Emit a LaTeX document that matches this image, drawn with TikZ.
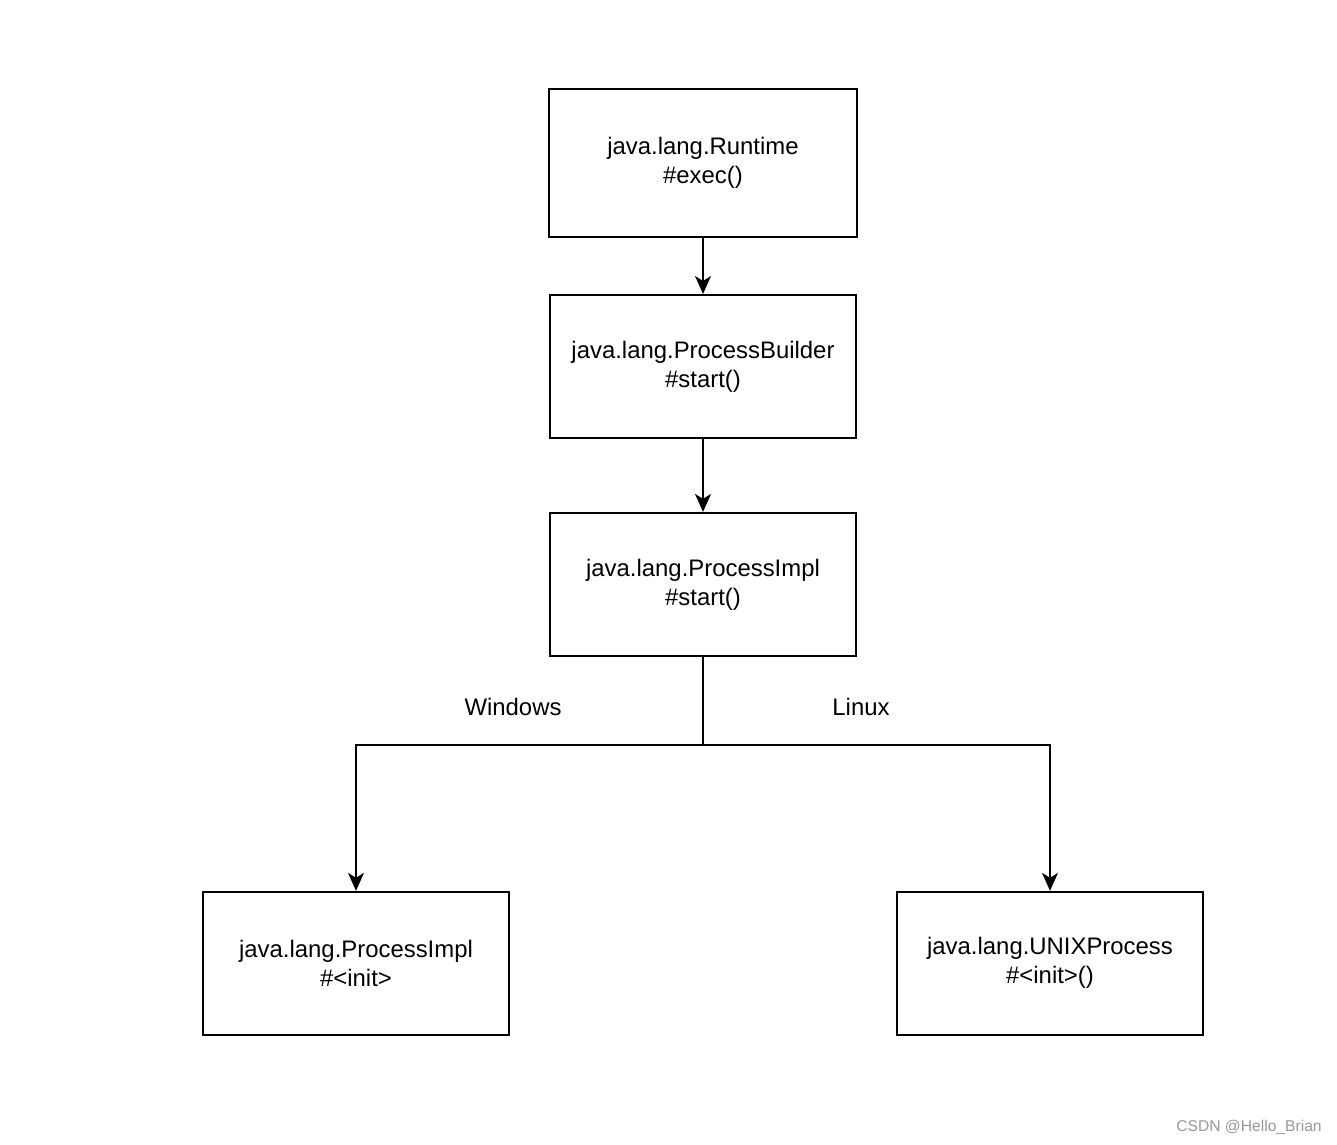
\documentclass[tikz,border=0pt]{standalone}
\usepackage{fontspec}
\setmainfont{Liberation Sans}
\usetikzlibrary{arrows.meta, positioning}

\begin{document}
\begin{tikzpicture}[
        node distance=1.12cm,
        font=\fontsize{13.6pt}{16.5pt}\selectfont,
        method/.style={rectangle, draw=black, line width=1.1pt, minimum width=6.12cm, minimum height=2.86cm, align=center, inner sep=0pt},
        call/.style={-{Stealth[length=0.36cm, width=0.32cm, inset=0.1cm]}, line width=0.8pt},
        branch/.style={line width=0.8pt},
        watermark/.style={text=black!40, font=\fontsize{8.9pt}{10pt}\selectfont}
    ]
        \useasboundingbox (0,0) rectangle (26.74,-22.9);

        % Aufrufkette
        \node[method, minimum width=6.16cm, minimum height=2.96cm] (runtime) at (14.06,-3.26) {java.lang.Runtime\\\#exec()};
        \node[method, below=1.12cm of runtime] (builder) {java.lang.ProcessBuilder\\\#start()};
        \node[method, below=1.46cm of builder] (impl) {java.lang.ProcessImpl\\\#start()};

        % Plattformen
        \node[method, below=4.68cm of impl, xshift=-6.94cm] (implinit) {java.lang.ProcessImpl\\\#<init>};
        \node[method, below=4.68cm of impl, xshift=6.94cm] (unixinit) {java.lang.UNIXProcess\\\#<init>()};

        \coordinate[below=1.76cm of impl.south] (split);

        % Pfeile
        \draw[call] (runtime) -- (builder);
        \draw[call] (builder) -- (impl);
        \draw[branch] (impl) -- (split);
        \draw[call] (split) -| (implinit);
        \draw[call] (split) -| (unixinit);

        \node (windows) at (10.26,-14.14) {Windows};
        \node (linux) at (17.22,-14.14) {Linux};

        \node[watermark] (mark) at (24.98,-22.54) {CSDN @Hello\_Brian};
    \end{tikzpicture}
\end{document}
